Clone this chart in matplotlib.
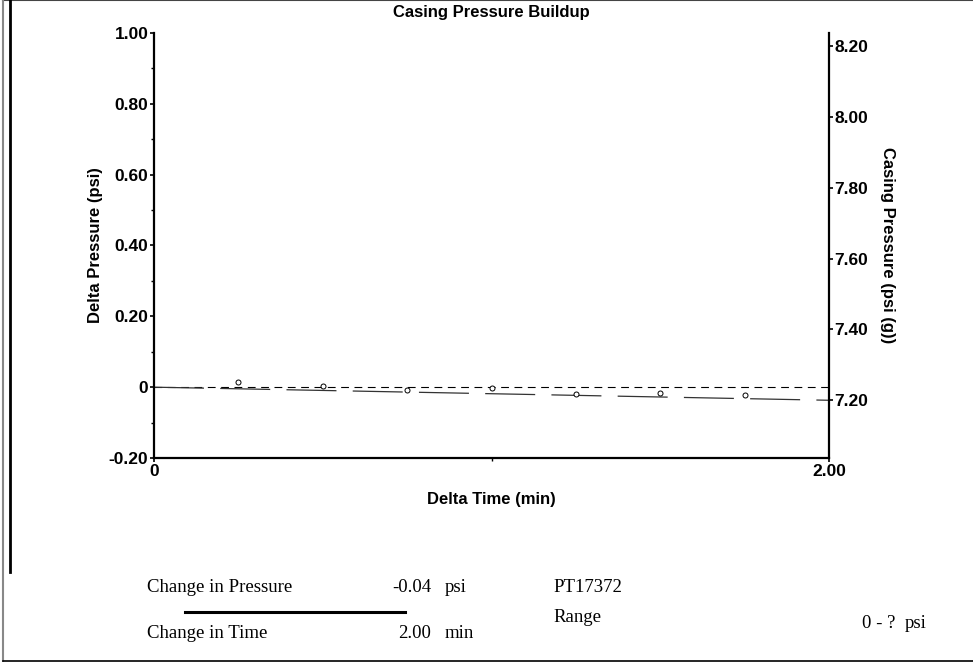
import matplotlib.pyplot as plt
import numpy as np
from matplotlib.lines import Line2D
from matplotlib.ticker import MultipleLocator, FixedLocator

# Readings taken from the buildup test
delta_time = [0.0, 0.25, 0.50, 0.75, 1.00, 1.25, 1.50, 1.75, 2.00]          # min
delta_pressure = [0.0, 0.014, 0.003, -0.008, -0.003, -0.020, -0.017, -0.023, -0.037]  # psi
start_pressure = 7.237   # psi (g)

left_ticks = [-0.20, 0.0, 0.20, 0.40, 0.60, 0.80, 1.00]
left_labels = ["-0.20", "0", "0.20", "0.40", "0.60", "0.80", "1.00"]
right_ticks = [7.20, 7.40, 7.60, 7.80, 8.00, 8.20]
right_labels = ["7.20", "7.40", "7.60", "7.80", "8.00", "8.20"]

W, H = 973, 662
fig = plt.figure(figsize=(W / 100, H / 100), dpi=100)
plt.rcParams['font.family'] = ['Liberation Sans', 'DejaVu Sans']

ax = fig.add_axes([154 / W, (H - 458) / H, (829 - 154) / W, (458 - 33) / H])
ax.set_xlim(0, 2.0)
ax.set_ylim(-0.20, 1.00)

# zero reference line and the trend from first to last reading
ax.axhline(0, color='black', lw=0.8, linestyle=(0, (7, 5)))
ax.plot([delta_time[0], delta_time[-1]], [delta_pressure[0], delta_pressure[-1]],
        color='#333333', lw=0.9, linestyle=(0, (40, 13)))
ax.plot(delta_time, delta_pressure, linestyle='none', marker='o', markersize=3.6,
        markerfacecolor='white', markeredgecolor='black', markeredgewidth=0.7,
        markevery=slice(1, -1))

for s in ['top', 'right']:
    ax.spines[s].set_visible(False)
for s in ['left', 'bottom']:
    ax.spines[s].set_linewidth(1.6)

ax.yaxis.set_major_locator(FixedLocator(left_ticks))
ax.set_yticklabels(left_labels)
ax.yaxis.set_minor_locator(MultipleLocator(0.1))
ax.set_xticks([0, 2.0])
ax.set_xticklabels(["0", "2.00"])
ax.xaxis.set_minor_locator(FixedLocator([1.0]))
ax.tick_params(axis='both', which='major', length=3, width=1.2, pad=1,
               labelsize=12.5)
ax.tick_params(axis='both', which='minor', length=2, width=1.0)
for lab in ax.get_xticklabels() + ax.get_yticklabels():
    lab.set_fontweight('bold')

ax.set_xlabel('Delta Time (min)', fontsize=12, fontweight='bold', labelpad=10)
ax.set_ylabel('Delta Pressure (psi)', fontsize=12, fontweight='bold', labelpad=4)

# casing pressure on the right, same scale shifted by start pressure
ax2 = ax.twinx()
ax2.set_ylim(start_pressure - 0.20, start_pressure + 1.00)
for s in ['top', 'left', 'bottom']:
    ax2.spines[s].set_visible(False)
ax2.spines['right'].set_linewidth(1.6)
ax2.set_yticks(right_ticks)
ax2.set_yticklabels(right_labels)
ax2.tick_params(axis='y', length=3, width=1.2, pad=1, labelsize=12.5)
for lab in ax2.get_yticklabels():
    lab.set_fontweight('bold')
ax2.set_ylabel('Casing Pressure (psi (g))', fontsize=12, fontweight='bold',
               rotation=-90, labelpad=19)

fig.text(491 / W, 1 - 12 / H, 'Casing Pressure Buildup', ha='center', va='center',
         fontsize=12, fontweight='bold')

# frame lines
def fline(x0, y0, x1, y1, color='black', lw=1.0):
    fig.add_artist(Line2D([x0 / W, x1 / W], [1 - y0 / H, 1 - y1 / H],
                          color=color, lw=lw, transform=fig.transFigure))

fline(3, 0, 973, 0, color='#444444', lw=1.5)
fline(3, 0, 3, 661, color='#888888', lw=1.5)
fline(9.5, 0, 9.5, 572, lw=2.0)
fline(3, 660.5, 973, 660.5, lw=1.2)

# summary below the plot
serif = ['Liberation Serif', 'DejaVu Serif']
def btext(x, y, s, ha='left'):
    fig.text(x / W, 1 - y / H, s, ha=ha, va='center', fontsize=13.5, family=serif)

btext(147, 588, 'Change in Pressure')
btext(431, 588, '%.2f' % (delta_pressure[-1] + 0.0), ha='right')
btext(445, 588, 'psi')
fline(185, 612, 405, 612, lw=2.2)
btext(147, 634, 'Change in Time')
btext(431, 634, '%.2f' % (delta_time[-1] - delta_time[0]), ha='right')
btext(445, 634, 'min')
btext(553, 588, 'PT17372')
btext(553, 617, 'Range')
btext(862, 623, '0 - ?')
btext(905, 623, 'psi')

fig.savefig('out.png', dpi=100)
